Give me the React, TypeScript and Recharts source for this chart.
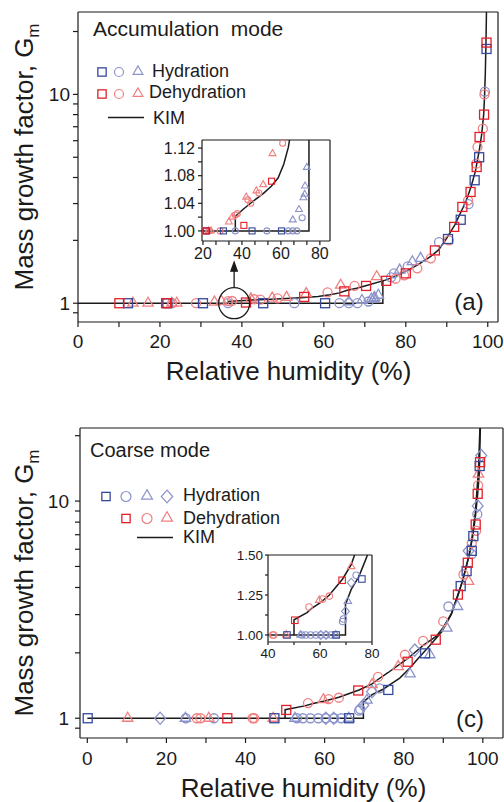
import React from 'react';
import { ComposedChart, Scatter, Line, XAxis, YAxis, ReferenceDot } from 'recharts';

type Pt = [number, number];
type Kind = 'square' | 'circle' | 'triangle' | 'diamond';

const FONT = '"Liberation Sans", Arial, Helvetica, sans-serif';
const INK = '#1b1b1b';
const BLUE = '#34489c';
const BLUE_LIGHT = '#8b93cb';
const RED = '#e3202a';
const RED_LIGHT = '#f07f80';

// (a) accumulation mode, [RH %, Gm]
const accHydSquare: Pt[] = [[12.2, 1.0], [21.8, 1.0], [30.5, 1.0], [45.2, 1.0], [60.3, 1.0], [90.3, 2.03], [93.4, 2.51], [96.8, 3.88], [97.9, 5.0], [99.7, 16.5]];
const accHydCircle: Pt[] = [[36.6, 1.0], [52.8, 1.0], [63.8, 1.0], [66.1, 1.0], [68.2, 1.0], [70.9, 1.019], [76.4, 1.33], [77.1, 1.39], [80.5, 1.5], [88.1, 1.96], [95.3, 2.98], [99.3, 10.3]];
const accHydTriangle: Pt[] = [[66.1, 1.016], [69.3, 1.031], [71.6, 1.048], [72.2, 1.053], [72.4, 1.065], [73.3, 1.092], [78.5, 1.44], [81.6, 1.58], [83.6, 1.64]];
const accDehSquare: Pt[] = [[10.1, 1.0], [21.5, 1.0], [41.0, 1.008], [55.2, 1.072], [65.0, 1.14], [70.3, 1.21], [75.2, 1.28], [80.0, 1.39], [87.1, 1.79], [91.8, 2.32], [93.8, 2.89], [95.8, 3.41], [97.3, 4.49], [98.0, 6.25], [99.1, 8.0], [99.7, 17.7]];
const accDehCircle: Pt[] = [[21.6, 1.0], [23.0, 1.0], [28.8, 1.0], [36.6, 1.023], [37.6, 1.025], [43.0, 1.045], [44.5, 1.04], [48.7, 1.055], [60.9, 1.127], [67.5, 1.21], [77.5, 1.31], [79.6, 1.36], [82.8, 1.47], [86.1, 1.64], [90.5, 2.0], [95.2, 3.11], [97.2, 4.66], [97.5, 5.6], [98.8, 6.85], [99.2, 10.0]];
const accDehTriangle: Pt[] = [[13.4, 1.0], [17.1, 1.0], [22.9, 1.0], [24.1, 1.0], [33.3, 1.013], [35.0, 1.02], [42.2, 1.049], [47.4, 1.058], [50.9, 1.067], [55.7, 1.112], [64.1, 1.22], [72.9, 1.34]];
const accKimHyd: Pt[] = [[0, 1.0], [74.4, 1.0], [74.4, 1.28]];
const accKimDeh: Pt[] = [[36.6, 1.0], [36.6, 1.021], [40.5, 1.031], [45.7, 1.043], [50.9, 1.054], [55.2, 1.065], [58.6, 1.077], [61.5, 1.097], [63.8, 1.121], [65.5, 1.15], [68, 1.18], [70, 1.21], [75, 1.29], [78, 1.36], [80, 1.42], [83, 1.53], [86, 1.67], [88, 1.8], [90, 2.05], [92, 2.38], [94, 2.88], [95, 3.2], [96, 3.65], [97, 4.3], [98, 5.5], [98.5, 6.4], [99, 8.0], [99.2, 9.6], [99.4, 12.5], [99.55, 17], [99.7, 26]];

// (c) coarse mode
const coarseHydSquare: Pt[] = [[0.1, 1.0], [47.3, 1.0], [66.2, 1.0], [76.1, 1.35], [85.4, 1.99], [94.4, 4.06], [95.9, 4.76], [97.2, 5.9], [97.6, 6.9], [99.2, 14.5]];
const coarseHydCircle: Pt[] = [[24.9, 1.0], [32.0, 1.0], [53.0, 1.0], [54.5, 1.0], [56.4, 1.0], [58.4, 1.0], [60.3, 1.0], [62.4, 1.0], [64.2, 1.0], [68.7, 1.084], [69.0, 1.1], [73.9, 1.373], [91.3, 3.27], [97.2, 5.7], [98.6, 8.7]];
const coarseHydTriangle: Pt[] = [[24.8, 1.0], [52.5, 1.0], [66.1, 1.0], [70.7, 1.211], [81.6, 1.6], [86.6, 1.96], [90.9, 2.6], [93.6, 3.27]];
const coarseHydDiamond: Pt[] = [[18.4, 1.0], [60.3, 1.0], [62.3, 1.0], [69.8, 1.148], [72.0, 1.327], [82.8, 2.06], [96.4, 5.9], [98.7, 9.5], [99.6, 16.2]];
const coarseDehSquare: Pt[] = [[35.4, 1.0], [50.3, 1.092], [68.5, 1.342], [81.0, 1.82], [88.1, 2.3], [93.7, 3.71], [96.2, 5.2], [98.2, 7.8], [98.7, 10.8], [99.3, 15.1]];
const coarseDehCircle: Pt[] = [[27.7, 1.0], [28.6, 1.0], [41.8, 1.0], [42.2, 1.0], [55.8, 1.175], [61.0, 1.225], [63.6, 1.243], [73.5, 1.55], [80.3, 1.96], [84.9, 2.27], [90.0, 2.79], [95.1, 4.59], [97.2, 6.4], [98.3, 7.3], [98.8, 11.8]];
const coarseDehTriangle: Pt[] = [[10.2, 1.0], [30.7, 1.0], [47.0, 1.0], [59.7, 1.217], [72.0, 1.428], [78.6, 1.73], [96.4, 4.27], [98.9, 13.3]];
const coarseKimHyd: Pt[] = [[0, 1.0], [69.8, 1.0], [69.8, 1.19], [72, 1.285], [74.8, 1.36], [76.8, 1.44], [79, 1.53], [81.5, 1.7], [83.7, 1.89], [86.5, 2.15], [89.6, 2.5], [92, 3.0], [93.8, 3.71], [95.2, 4.5], [96.4, 5.49], [97.4, 6.8], [98.1, 8.4], [98.7, 10.8], [99.1, 13.3], [99.4, 22.7]];
const coarseKimDeh: Pt[] = [[50, 1.0], [50, 1.095], [55, 1.14], [57.1, 1.17], [60, 1.2], [63.6, 1.25], [68.7, 1.35], [72, 1.44], [73.3, 1.5], [76, 1.62], [81.1, 1.89], [85, 2.17], [88.2, 2.38], [90, 2.62], [92.1, 3.05], [94.7, 4.2], [96.8, 5.9], [98.1, 8.8], [98.9, 14], [99.3, 22.7]];

// axis ticks
const mainXTicks = [0, 10, 20, 30, 40, 50, 60, 70, 80, 90, 100];
const logTicks = [0.9, 1, 2, 3, 4, 5, 6, 7, 8, 9, 10, 20];
const accInsetXTicks = [20, 26.67, 33.33, 40, 46.67, 53.33, 60, 66.67, 73.33, 80];
const accInsetYTicks = [1.0, 1.02, 1.04, 1.06, 1.08, 1.1, 1.12];
const coarseInsetXTicks = [40, 50, 60, 70, 80];
const coarseInsetYTicks = [1.0, 1.125, 1.25, 1.375, 1.5];

type Series = { pts: Pt[]; kind: Kind; color: string };

const accSeries: Series[] = [
  { pts: accHydCircle, kind: 'circle', color: BLUE_LIGHT },
  { pts: accHydTriangle, kind: 'triangle', color: BLUE_LIGHT },
  { pts: accDehCircle, kind: 'circle', color: RED_LIGHT },
  { pts: accDehTriangle, kind: 'triangle', color: RED_LIGHT },
  { pts: accHydSquare, kind: 'square', color: BLUE },
  { pts: accDehSquare, kind: 'square', color: RED },
];

const coarseSeries: Series[] = [
  { pts: coarseHydCircle, kind: 'circle', color: BLUE_LIGHT },
  { pts: coarseHydTriangle, kind: 'triangle', color: BLUE_LIGHT },
  { pts: coarseHydDiamond, kind: 'diamond', color: BLUE_LIGHT },
  { pts: coarseDehCircle, kind: 'circle', color: RED_LIGHT },
  { pts: coarseDehTriangle, kind: 'triangle', color: RED_LIGHT },
  { pts: coarseHydSquare, kind: 'square', color: BLUE },
  { pts: coarseDehSquare, kind: 'square', color: RED },
];

const rows = (pts: Pt[]) => pts.map(([rh, gm]) => ({ rh, gm }));

const every20 = (v: number) => (v % 20 === 0 ? String(v) : '');
const logFmt = (v: number) => (v === 1 || v === 10 ? String(v) : '');
const accInsetYFmt = (v: number) => (Math.round(v * 100) % 4 === 0 ? v.toFixed(2) : '');
const coarseInsetYFmt = (v: number) => (Math.round(v * 100) % 25 === 0 ? v.toFixed(2) : '');

const Marker = ({ cx, cy, kind, color, size, sw }: any) => {
  if (cx == null || cy == null || isNaN(cx) || isNaN(cy)) return null;
  const h = size / 2;
  const st = { fill: 'none', stroke: color, strokeWidth: sw };
  if (kind === 'square') return <rect x={cx - h} y={cy - h} width={size} height={size} {...st} />;
  if (kind === 'circle') return <circle cx={cx} cy={cy} r={h} {...st} />;
  if (kind === 'triangle') {
    const w = size * 1.15;
    const th = w * 0.866;
    return <polygon points={`${cx},${cy - (th * 2) / 3} ${cx - w / 2},${cy + th / 3} ${cx + w / 2},${cy + th / 3}`} {...st} />;
  }
  const dw = size * 0.6;
  const dh = size * 0.68;
  return <polygon points={`${cx},${cy - dh} ${cx + dw},${cy} ${cx},${cy + dh} ${cx - dw},${cy}`} {...st} />;
};

const Lens = ({ cx, cy }: any) => (
  <g fill="none" stroke={INK} strokeWidth={1.3}>
    <circle cx={cx} cy={cy} r={15.5} />
    <line x1={cx} y1={cy - 15.5} x2={cx} y2={cy - 33} />
    <polygon points={`${cx},${cy - 41} ${cx - 3.2},${cy - 32} ${cx + 3.2},${cy - 32}`} fill={INK} />
  </g>
);

interface PlotProps {
  width: number;
  height: number;
  margin: { top: number; right: number; bottom: number; left: number };
  yWidth: number;
  xHeight: number;
  xDomain: [number, number];
  xTicks: number[];
  xFmt: (v: number) => string;
  yDomain: [number, number];
  yTicks: number[];
  yFmt: (v: number) => string;
  yScale: 'log' | 'linear';
  series: Series[];
  kim: Pt[][];
  size: number;
  sw: number;
  font: number;
  tickLen: number;
  xGap: number;
  yGap: number;
  topTicks: boolean;
  children?: React.ReactNode;
}

function Plot(p: PlotProps) {
  const tickStyle = { fill: INK, fontSize: p.font, fontFamily: FONT };
  return (
    <ComposedChart width={p.width} height={p.height} margin={p.margin}>
      <XAxis xAxisId="b" dataKey="rh" type="number" domain={p.xDomain} allowDataOverflow ticks={p.xTicks}
        tickFormatter={p.xFmt} interval={0} height={p.xHeight} tickSize={p.tickLen} tickMargin={p.xGap}
        stroke={INK} strokeWidth={1.2} tick={tickStyle} />
      <XAxis xAxisId="t" orientation="top" type="number" domain={p.xDomain} allowDataOverflow ticks={p.xTicks}
        tick={false} tickLine={p.topTicks} mirror height={1} tickSize={p.tickLen} stroke={INK} strokeWidth={1.2} />
      <YAxis yAxisId="l" dataKey="gm" type="number" scale={p.yScale} domain={p.yDomain} allowDataOverflow
        ticks={p.yTicks} tickFormatter={p.yFmt} interval={0} width={p.yWidth} tickSize={p.tickLen}
        tickMargin={p.yGap} stroke={INK} strokeWidth={1.2} tick={tickStyle} />
      <YAxis yAxisId="r" orientation="right" type="number" scale={p.yScale} domain={p.yDomain} allowDataOverflow
        ticks={p.yTicks} tick={false} mirror width={1} tickSize={p.tickLen} stroke={INK} strokeWidth={1.2} />
      {p.series.map((s, i) => (
        <Scatter key={`s${i}`} xAxisId="b" yAxisId="l" data={rows(s.pts)} isAnimationActive={false}
          shape={(q: any) => <Marker cx={q.cx} cy={q.cy} kind={s.kind} color={s.color} size={p.size} sw={p.sw} />} />
      ))}
      {p.kim.map((k, i) => (
        <Line key={`k${i}`} xAxisId="b" yAxisId="l" data={rows(k)} dataKey="gm" type="linear" stroke={INK}
          strokeWidth={1.5} dot={false} activeDot={false} isAnimationActive={false} />
      ))}
      {p.children}
    </ComposedChart>
  );
}

const txt = { fontFamily: FONT, fill: INK };

export default function App() {
  return (
    <div style={{ position: 'absolute', left: 0, top: 0, width: 504, height: 802, background: '#fff', overflow: 'hidden' }}>
      <div style={{ position: 'absolute', left: 0, top: 0 }}>
        <Plot width={504} height={400} margin={{ top: 12, right: 6, bottom: 38, left: 0 }} yWidth={78} xHeight={40}
          xDomain={[0, 102.5]} xTicks={mainXTicks} xFmt={every20}
          yDomain={[0.813, 24.8]} yTicks={logTicks} yFmt={logFmt} yScale="log"
          series={accSeries} kim={[accKimHyd, accKimDeh]} size={9} sw={1.3} font={19} tickLen={5}
          xGap={8} yGap={3} topTicks={false}>
          <ReferenceDot xAxisId="b" yAxisId="l" x={38.1} y={1} shape={(q: any) => <Lens cx={q.cx} cy={q.cy} />} />
        </Plot>
      </div>
      <div style={{ position: 'absolute', left: 0, top: 400 }}>
        <Plot width={504} height={402} margin={{ top: 28, right: 1, bottom: 24, left: 0 }} yWidth={80} xHeight={40}
          xDomain={[-1.85, 105.1]} xTicks={mainXTicks} xFmt={every20}
          yDomain={[0.811, 21.7]} yTicks={logTicks} yFmt={logFmt} yScale="log"
          series={coarseSeries} kim={[coarseKimHyd, coarseKimDeh]} size={9} sw={1.3} font={19} tickLen={5}
          xGap={9} yGap={6} topTicks={false} />
      </div>
      <div style={{ position: 'absolute', left: 140, top: 128 }}>
        <Plot width={200} height={140} margin={{ top: 12, right: 10, bottom: 0, left: 0 }} yWidth={62} xHeight={27}
          xDomain={[19.5, 85.2]} xTicks={accInsetXTicks} xFmt={every20}
          yDomain={[0.9854, 1.1317]} yTicks={accInsetYTicks} yFmt={accInsetYFmt} yScale="linear"
          series={accSeries} kim={[accKimHyd, accKimDeh]} size={6} sw={1.1} font={16} tickLen={4}
          xGap={3} yGap={3} topTicks />
      </div>
      <div style={{ position: 'absolute', left: 220, top: 545 }}>
        <Plot width={160} height={120} margin={{ top: 10, right: 8, bottom: 0, left: 0 }} yWidth={48} xHeight={23}
          xDomain={[40, 80]} xTicks={coarseInsetXTicks} xFmt={every20}
          yDomain={[0.956, 1.5]} yTicks={coarseInsetYTicks} yFmt={coarseInsetYFmt} yScale="linear"
          series={coarseSeries} kim={[coarseKimHyd, coarseKimDeh]} size={6.5} sw={1.1} font={13.5} tickLen={3}
          xGap={3} yGap={2} topTicks />
      </div>
      <svg width={504} height={802} style={{ position: 'absolute', left: 0, top: 0, pointerEvents: 'none' }}>
        {/* panel (a) */}
        <text x={93} y={36} fontSize={21} style={{ whiteSpace: 'pre' }} {...txt}>Accumulation  mode</text>
        <Marker cx={102} cy={72} kind="square" color={BLUE} size={8.3} sw={1.3} />
        <Marker cx={119} cy={72} kind="circle" color={BLUE_LIGHT} size={9} sw={1.2} />
        <Marker cx={138} cy={71.5} kind="triangle" color={BLUE_LIGHT} size={8.5} sw={1.2} />
        <text x={152} y={77} fontSize={18} {...txt}>Hydration</text>
        <Marker cx={102} cy={94} kind="square" color={RED} size={8.3} sw={1.3} />
        <Marker cx={119} cy={94} kind="circle" color={RED_LIGHT} size={9} sw={1.2} />
        <Marker cx={138} cy={93.5} kind="triangle" color={RED_LIGHT} size={8.5} sw={1.2} />
        <text x={149} y={98} fontSize={18} {...txt}>Dehydration</text>
        <line x1={108} x2={144} y1={117.5} y2={117.5} stroke={INK} strokeWidth={1.5} />
        <text x={153} y={124} fontSize={18} {...txt}>KIM</text>
        <text x={469} y={310} fontSize={24} textAnchor="middle" {...txt}>(a)</text>
        <text x={288.5} y={380} fontSize={26} textAnchor="middle" {...txt}>Relative humidity (%)</text>
        <text transform="translate(33,157) rotate(-90)" fontSize={26} textAnchor="middle" {...txt}>
          Mass growth factor, G<tspan fontSize={17} dy={6}>m</tspan>
        </text>
        {/* panel (c) */}
        <text x={90} y={457} fontSize={20} {...txt}>Coarse mode</text>
        <Marker cx={106} cy={496.5} kind="square" color={BLUE} size={8.3} sw={1.3} />
        <Marker cx={126} cy={496.5} kind="circle" color={BLUE_LIGHT} size={10} sw={1.2} />
        <Marker cx={147} cy={496} kind="triangle" color={BLUE_LIGHT} size={9.5} sw={1.2} />
        <Marker cx={167} cy={496.5} kind="diamond" color={BLUE_LIGHT} size={9.5} sw={1.2} />
        <text x={183} y={501} fontSize={18} {...txt}>Hydration</text>
        <Marker cx={126} cy={518.5} kind="square" color={RED} size={8.3} sw={1.3} />
        <Marker cx={147} cy={518.5} kind="circle" color={RED_LIGHT} size={10} sw={1.2} />
        <Marker cx={167} cy={518} kind="triangle" color={RED_LIGHT} size={9.5} sw={1.2} />
        <text x={183} y={524} fontSize={18} {...txt}>Dehydration</text>
        <line x1={137} x2={173} y1={537.5} y2={537.5} stroke={INK} strokeWidth={1.5} />
        <text x={183} y={543} fontSize={18} {...txt}>KIM</text>
        <text x={470} y={727} fontSize={24} textAnchor="middle" {...txt}>(c)</text>
        <text x={303.5} y={797} fontSize={26} textAnchor="middle" {...txt}>Relative humidity (%)</text>
        <text transform="translate(33,583) rotate(-90)" fontSize={26} textAnchor="middle" {...txt}>
          Mass growth factor, G<tspan fontSize={17} dy={6}>m</tspan>
        </text>
      </svg>
    </div>
  );
}
